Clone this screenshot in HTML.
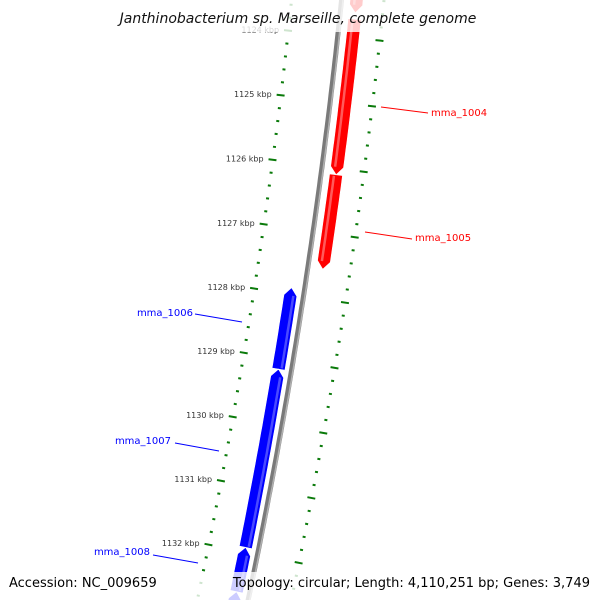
<!DOCTYPE html>
<html><head><meta charset="utf-8"><style>
html,body{margin:0;padding:0;background:#fff;width:600px;height:600px;overflow:hidden;}
svg{display:block;font-family:"DejaVu Sans","Liberation Sans",sans-serif;}
</style></head><body>
<svg id="map" width="600" height="600" viewBox="0 0 600 600" xmlns="http://www.w3.org/2000/svg" overflow="hidden">
<g id="rings"></g>
<g id="labels">
  <line x1="381" y1="107" x2="428" y2="113" stroke="#f00" stroke-width="1"/>
  <text x="431" y="116" font-size="10" fill="#f00">mma_1004</text>
  <line x1="365" y1="232" x2="412" y2="239" stroke="#f00" stroke-width="1"/>
  <text x="415" y="241" font-size="10" fill="#f00">mma_1005</text>
  <line x1="195" y1="314" x2="242" y2="322" stroke="#00f" stroke-width="1"/>
  <text x="193" y="316" font-size="10" fill="#00f" text-anchor="end">mma_1006</text>
  <line x1="175" y1="443" x2="219" y2="451" stroke="#00f" stroke-width="1"/>
  <text x="171" y="444" font-size="10" fill="#00f" text-anchor="end">mma_1007</text>
  <line x1="153" y1="555" x2="198" y2="563" stroke="#00f" stroke-width="1"/>
  <text x="150" y="555" font-size="10" fill="#00f" text-anchor="end">mma_1008</text>
</g>
<rect x="0" y="0" width="600" height="32" fill="#fff" opacity="0.8"/>
<text x="298" y="23" font-size="14" font-style="italic" text-anchor="middle" fill="#111">Janthinobacterium sp. Marseille, complete genome</text>
<rect x="0" y="572" width="600" height="28" fill="#fff" opacity="0.8"/>
<text x="9" y="587" font-size="13" fill="#000">Accession: NC_009659</text>
<text x="590" y="587" font-size="13" fill="#000" text-anchor="end">Topology: circular; Length: 4,110,251 bp; Genes: 3,749</text>
</svg>
<script>
const tickLabels = [1124,1125,1126,1127,1128,1129,1130,1131,1132];
const fwdStarts = [1123.0, 1123.72, 1126.1];
const fwdEnds   = [1123.62, 1126.1, 1127.55];
const fwdNames  = ['gene-prev','mma_1004','mma_1005'];
const revStarts = [1127.9, 1129.16, 1131.93, 1132.62];
const revEnds   = [1129.16, 1131.93, 1132.62, 1133.6];
const revNames  = ['mma_1006','mma_1007','mma_1008','gene-next'];

const CX=-5429, CY=-591, RIN=5750.7, TH0=0.1083, K=0.01131;
const NS='http://www.w3.org/2000/svg';
const g=document.getElementById('rings');
function ang(p){return TH0+(p-1124)*K;}
function pt(p,r){const a=ang(p);return [CX+r*Math.cos(a),CY+r*Math.sin(a)];}
function arcPts(p0,p1,r){const out=[];const n=Math.max(2,Math.ceil(Math.abs(p1-p0)*10));for(let i=0;i<=n;i++){out.push(pt(p0+(p1-p0)*i/n,r));}return out;}
function mk(tag,attrs){const e=document.createElementNS(NS,tag);for(const k in attrs)e.setAttribute(k,attrs[k]);g.appendChild(e);return e;}
function poly(pts){return pts.map(q=>q[0].toFixed(1)+','+q[1].toFixed(1)).join(' ');}

const bb=mk('polyline',{points:poly(arcPts(1122.5,1133.3,RIN+50)),fill:'none',stroke:'#7a7a7a','stroke-width':5});


const bb2=mk('polyline',{points:poly(arcPts(1122.5,1133.3,RIN+51.5)),fill:'none',stroke:'#b0b0b0','stroke-width':1.5});



for(let i=0;i<=50;i++){
  const p=1122.8+i*0.2; const major=Math.abs(p-Math.round(p))<0.01;
  [[RIN,'inner'],[RIN+92,'outer']].forEach(([r,side])=>{
    const a=pt(p,major?r-4:r-1.2), b=pt(p,major?r+4:r+1.8);
    const t=mk('line',{x1:a[0],y1:a[1],x2:b[0],y2:b[1],stroke:'#0a7a0a','stroke-width':2});
    
    
  });
}
tickLabels.forEach(v=>{
  const q=pt(v,RIN-9);
  const t=mk('text',{x:q[0].toFixed(1),y:(q[1]+3).toFixed(1),'font-size':8,'text-anchor':'end',fill:'#333'});
  t.textContent=v+' kbp';
  
  
});

function gene(s,e,rc,fwd,color,light,name){
  const w=6.5,h=0.12;
  let pts;
  if(fwd){pts=arcPts(s,e-h,rc+w).concat([pt(e,rc)]).concat(arcPts(e-h,s,rc-w));}
  else{pts=[pt(s,rc)].concat(arcPts(s+h,e,rc+w)).concat(arcPts(e,s+h,rc-w));}
  const el=mk('polygon',{points:poly(pts),fill:color,stroke:'#fff','stroke-width':0.6});
  
  
  const hl=mk('polyline',{points:poly(arcPts(fwd?s+0.02:s+h,fwd?e-h:e-0.02,fwd?rc-2:rc+3)),fill:'none',stroke:light,'stroke-width':2.5});
  
  
}
fwdStarts.forEach((s,i)=>gene(s,fwdEnds[i],RIN+65,true,'#ff0000','#ff5a5a',fwdNames[i]));
revStarts.forEach((s,i)=>gene(s,revEnds[i],RIN+37,false,'#0000ff','#4a4aff',revNames[i]));
</script>
</body></html>
